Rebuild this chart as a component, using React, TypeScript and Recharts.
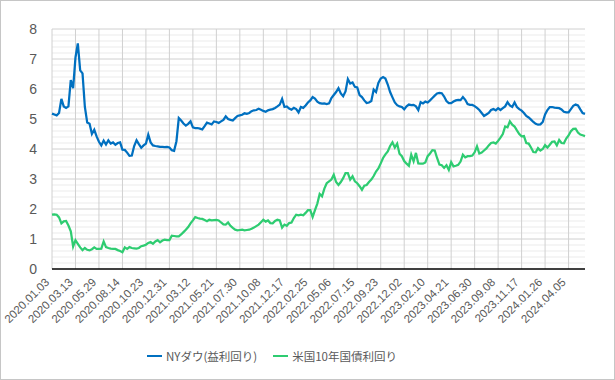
import { LineChart, Line, XAxis, YAxis, ReferenceLine } from 'recharts'

// weekly closes, one point per week, starting 2020.01.03
const dowYield = [
  5.18, 5.15, 5.12, 5.2, 5.67, 5.42, 5.37, 5.42, 6.3, 6.03,
  7.05, 7.52, 6.62, 6.52, 5.4, 4.88, 4.84, 4.5, 4.64, 4.42,
  4.24, 4.12, 4.28, 4.15, 4.29, 4.18, 4.22, 4.14, 4.2, 4.22,
  3.98, 3.97, 3.88, 3.77, 3.78, 4.1, 4.29, 4.16, 4.04, 4.12,
  4.18, 4.48, 4.22, 4.12, 4.1, 4.09, 4.07, 4.07, 4.06, 4.07,
  4.05, 3.96, 3.94, 4.26, 5.03, 4.95, 4.85, 4.78, 4.84, 4.92,
  4.72, 4.7, 4.7, 4.68, 4.65, 4.76, 4.88, 4.85, 4.82, 4.92,
  4.9, 4.87, 4.92, 4.97, 5.09, 5.0, 4.97, 4.95, 5.03, 5.1,
  5.12, 5.14, 5.19, 5.17, 5.2, 5.26, 5.29, 5.3, 5.34, 5.31,
  5.27, 5.24, 5.29, 5.31, 5.33, 5.37, 5.42, 5.48, 5.67, 5.4,
  5.42, 5.35, 5.31, 5.37, 5.33, 5.22, 5.4, 5.37, 5.45, 5.55,
  5.62, 5.73, 5.68, 5.58, 5.53, 5.51, 5.52, 5.5, 5.52, 5.7,
  5.8, 5.9, 6.03, 5.85, 5.76, 5.92, 6.33, 6.18, 6.22, 6.07,
  6.05, 5.8, 5.73, 5.62, 5.53, 5.55, 5.6, 5.98, 5.9, 6.2,
  6.35, 6.4, 6.35, 6.15, 5.9, 5.72, 5.55, 5.46, 5.42, 5.4,
  5.32, 5.42, 5.48, 5.46, 5.47, 5.42, 5.3, 5.56, 5.52, 5.58,
  5.55, 5.62, 5.7, 5.78, 5.85, 5.87, 5.86, 5.75, 5.6, 5.53,
  5.53, 5.58, 5.62, 5.64, 5.63, 5.73, 5.64, 5.5, 5.47, 5.47,
  5.43, 5.37, 5.3, 5.2, 5.1, 5.15, 5.2, 5.3, 5.33, 5.29,
  5.36, 5.3, 5.36, 5.42, 5.56, 5.45, 5.4, 5.55, 5.4, 5.33,
  5.28, 5.2, 5.1, 5.05, 4.98, 4.9, 4.84, 4.81, 4.82, 4.9,
  5.15, 5.3, 5.4, 5.4, 5.38, 5.37, 5.36, 5.32, 5.24, 5.22,
  5.22, 5.33, 5.44, 5.48, 5.45, 5.32, 5.2, 5.17,
]

const us10y = [
  1.81, 1.82, 1.81, 1.72, 1.52, 1.59, 1.6, 1.45, 1.26, 0.75,
  0.96, 0.84, 0.72, 0.63, 0.7, 0.64, 0.62, 0.66, 0.72, 0.67,
  0.67, 0.68, 0.92, 0.73, 0.7, 0.68, 0.67, 0.67, 0.63, 0.6,
  0.56, 0.72, 0.67, 0.73, 0.7, 0.69, 0.68, 0.7, 0.76, 0.78,
  0.81, 0.87, 0.9, 0.84, 0.92, 0.96, 0.89, 0.95, 0.98, 0.96,
  0.96, 1.11, 1.1, 1.09, 1.09, 1.15, 1.23, 1.31, 1.4, 1.52,
  1.62, 1.73, 1.7, 1.68, 1.67, 1.63, 1.59, 1.64, 1.62, 1.63,
  1.64, 1.62, 1.55, 1.49, 1.48, 1.55, 1.44, 1.37, 1.31, 1.29,
  1.3, 1.31, 1.29, 1.3, 1.31, 1.34, 1.38, 1.43, 1.48, 1.56,
  1.64, 1.58, 1.62, 1.53, 1.52, 1.6, 1.64, 1.62, 1.38, 1.48,
  1.44, 1.53, 1.55, 1.7, 1.81, 1.79, 1.81, 1.79, 1.87, 1.96,
  1.96, 1.73, 1.96, 2.18, 2.5, 2.42, 2.68, 2.86, 2.92, 2.98,
  3.14, 2.9, 2.8, 2.9, 3.03, 3.2, 3.2, 2.98, 3.09, 2.92,
  2.86, 2.76, 2.64, 2.78, 2.8, 2.9, 2.98, 3.1, 3.25, 3.35,
  3.52, 3.7, 3.82, 3.92, 4.1, 4.22, 4.05, 4.18, 3.84, 3.76,
  3.6, 3.51, 3.44, 3.81, 3.59, 3.87, 3.52, 3.51, 3.51, 3.55,
  3.76, 3.85, 3.96, 3.95, 3.7, 3.48, 3.46, 3.37, 3.46, 3.3,
  3.56, 3.42, 3.44, 3.47, 3.58, 3.81, 3.72, 3.76, 3.76, 3.78,
  3.89, 4.09, 3.85, 3.88, 3.95, 4.02, 4.12, 4.2, 4.22, 4.18,
  4.27, 4.38, 4.5, 4.75, 4.72, 4.92, 4.81, 4.75, 4.62, 4.5,
  4.42, 4.43, 4.2, 4.18, 4.05, 3.9, 3.89, 4.03, 3.95, 4.0,
  4.13, 4.05, 4.14, 4.24, 4.25, 4.12, 4.3, 4.2, 4.19, 4.35,
  4.45, 4.59, 4.67, 4.68, 4.55, 4.48, 4.46, 4.43,
]

// one label every 10 weeks
const tickLabels = [
  '2020.01.03', '2020.03.13', '2020.05.29', '2020.08.14', '2020.10.23',
  '2020.12.31', '2021.03.12', '2021.05.21', '2021.07.30', '2021.10.08',
  '2021.12.17', '2022.02.25', '2022.05.06', '2022.07.15', '2022.09.23',
  '2022.12.02', '2023.02.10', '2023.04.21', '2023.06.30', '2023.09.08',
  '2023.11.17', '2024.01.26', '2024.04.05',
]

const yTicks = [0, 1, 2, 3, 4, 5, 6, 7, 8]
const minorY = Array.from({ length: 41 }, (_, k) => +(k * 0.2).toFixed(1)).filter(
  (v) => v % 1 !== 0
)

const seriesNames = ['NYダウ(益利回り)', '米国10年国債利回り']
const colors = ['#0070c0', '#2ecc71']

const data = dowYield.map((v, i) => ({ i, dow: v, bond: us10y[i] }))
const xTicks = tickLabels.map((_, k) => k * 10)

const labelFont = '"Liberation Sans", Arial, sans-serif'

function DateTick({ x, y, payload }: any) {
  const label = tickLabels[Math.round(payload.value / 10)] ?? ''
  const ax = x - 2
  const ay = y + 12
  return (
    <text
      x={ax}
      y={ay}
      transform={`rotate(-45, ${ax}, ${ay})`}
      textAnchor="end"
      fontSize={11.5}
      fontFamily={labelFont}
      fill="#595959"
    >
      {label}
    </text>
  )
}

export default function App() {
  return (
    <div
      style={{
        position: 'absolute',
        left: 0,
        top: 0,
        width: 613,
        height: 378,
        border: '1px solid #c6c6c6',
        background: '#fff',
      }}
    >
      <div style={{ position: 'absolute', left: -1, top: -1 }}>
        <LineChart
          width={615}
          height={380}
          data={data}
          margin={{ top: 29, right: 30, bottom: 81, left: 0 }}
        >
          <XAxis
            dataKey="i"
            type="number"
            domain={[0, dowYield.length - 1]}
            ticks={xTicks}
            interval={0}
            tick={<DateTick />}
            tickLine={false}
            tickSize={0}
            height={30}
            axisLine={false}
          />
          <YAxis
            type="number"
            domain={[0, 8]}
            ticks={yTicks}
            width={52}
            axisLine={false}
            tickLine={false}
            tickSize={0}
            tickMargin={15}
            tick={{ fontSize: 14, fill: '#595959', fontFamily: labelFont }}
          />
          {minorY.map((v) => (
            <ReferenceLine key={'m' + v} y={v} stroke="#ebebeb" strokeWidth={1} />
          ))}
          {yTicks.slice(1).map((v) => (
            <ReferenceLine key={'y' + v} y={v} stroke="#d0d0d0" strokeWidth={1} />
          ))}
          {xTicks.map((v) => (
            <ReferenceLine key={'x' + v} x={v} stroke="#d0d0d0" strokeWidth={1} />
          ))}
          <Line
            dataKey="dow"
            type="linear"
            stroke={colors[0]}
            strokeWidth={2.25}
            dot={false}
            isAnimationActive={false}
          />
          <Line
            dataKey="bond"
            type="linear"
            stroke={colors[1]}
            strokeWidth={2.25}
            dot={false}
            isAnimationActive={false}
          />
          <ReferenceLine y={0} stroke="#000" strokeWidth={1.5} />
        </LineChart>
      </div>
      <div
        style={{
          position: 'absolute',
          top: 347,
          left: 146,
          display: 'flex',
          gap: 16,
          fontFamily: '"Noto Sans CJK JP", sans-serif',
          fontSize: 11.5,
          color: '#595959',
        }}
      >
        {seriesNames.map((name, k) => (
          <div key={name} style={{ display: 'flex', alignItems: 'center' }}>
            <span
              style={{
                display: 'inline-block',
                width: 15,
                height: 2.5,
                background: colors[k],
                marginRight: 4,
              }}
            />
            {name}
          </div>
        ))}
      </div>
    </div>
  )
}
